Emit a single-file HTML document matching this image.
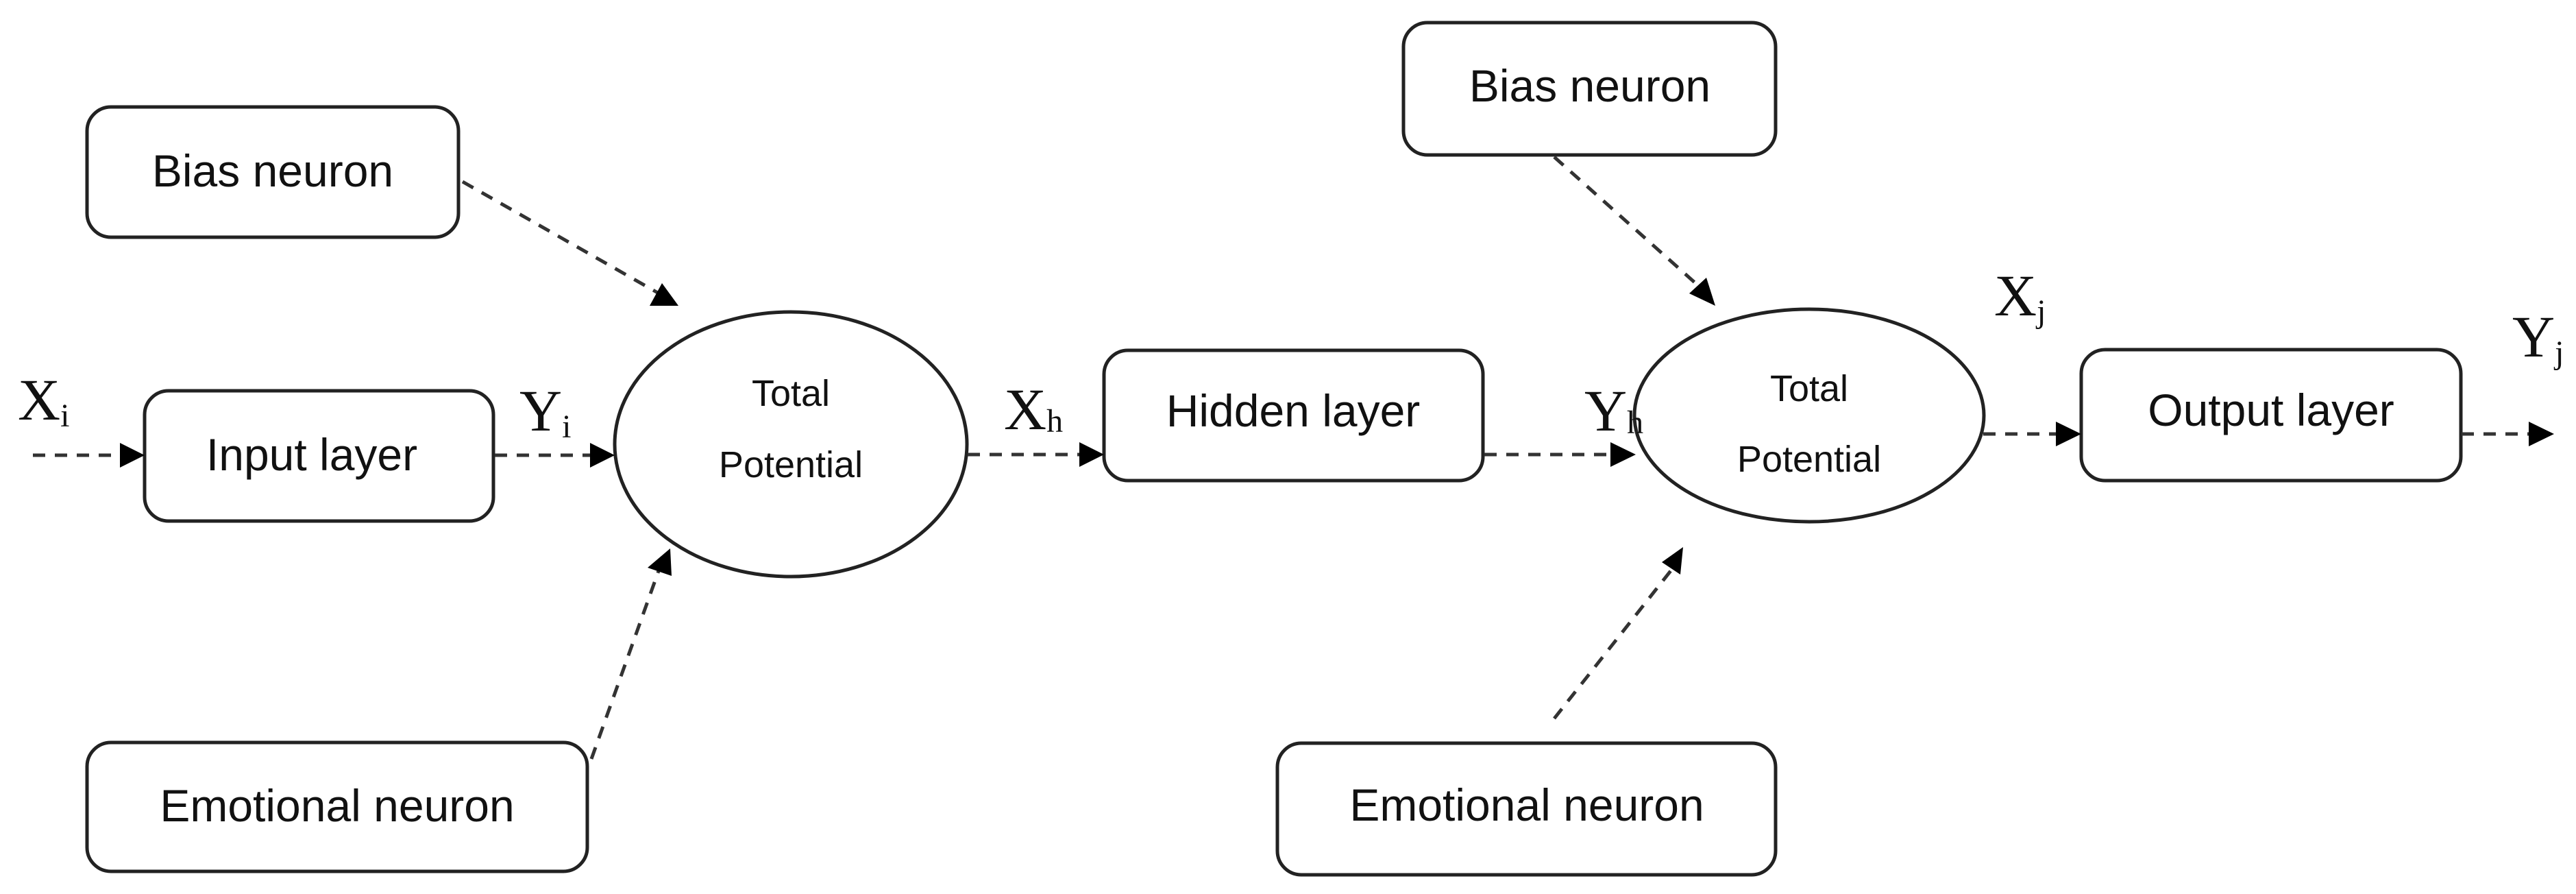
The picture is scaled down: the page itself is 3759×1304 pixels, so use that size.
<!DOCTYPE html>
<html><head><meta charset="utf-8"><style>
html,body{margin:0;padding:0;background:#fff;}
svg{display:block;}
.b{fill:#fff;stroke:#222;stroke-width:5;}
.t{font-family:"Liberation Sans Narrow","Liberation Sans",sans-serif;font-size:66px;fill:#111;}
.s{font-family:"Liberation Sans Narrow","Liberation Sans",sans-serif;font-size:54px;fill:#111;}
.m{font-family:"Liberation Serif",serif;font-size:86px;fill:#111;}
.sub{font-size:48px;}
.d{stroke:#333;stroke-width:5;stroke-dasharray:18 14;fill:none;}
</style></head><body>
<svg width="3759" height="1304" viewBox="0 0 3759 1304" xmlns="http://www.w3.org/2000/svg">
<defs><marker id="a" markerWidth="10" markerHeight="10" refX="8" refY="5" orient="auto" markerUnits="userSpaceOnUse" viewBox="0 0 10 10" style="overflow:visible"><path d="M0,0 L10,5 L0,10 z" fill="#000" transform="scale(4.5) translate(-2,-5) translate(0,5)"/></marker></defs>
<!-- boxes -->
<rect class="b" x="127" y="156" width="542" height="190" rx="35"/>
<text class="t" x="398" y="272" text-anchor="middle">Bias neuron</text>
<rect class="b" x="211" y="570" width="509" height="190" rx="35"/>
<text class="t" x="455" y="686" text-anchor="middle">Input layer</text>
<rect class="b" x="127" y="1083" width="730" height="188" rx="35"/>
<text class="t" x="492" y="1198" text-anchor="middle">Emotional neuron</text>
<rect class="b" x="1611" y="511" width="553" height="190" rx="35"/>
<text class="t" x="1887" y="622" text-anchor="middle">Hidden layer</text>
<rect class="b" x="2048" y="33" width="543" height="193" rx="35"/>
<text class="t" x="2320" y="148" text-anchor="middle">Bias neuron</text>
<rect class="b" x="1864" y="1084" width="727" height="192" rx="35"/>
<text class="t" x="2228" y="1197" text-anchor="middle">Emotional neuron</text>
<rect class="b" x="3037" y="510" width="554" height="191" rx="35"/>
<text class="t" x="3314" y="621" text-anchor="middle">Output layer</text>
<!-- ellipses -->
<ellipse class="b" cx="1154" cy="648" rx="257" ry="193" stroke-width="4"/>
<text class="s" x="1154" y="592" text-anchor="middle">Total</text>
<text class="s" x="1154" y="696" text-anchor="middle">Potential</text>
<ellipse class="b" cx="2640" cy="606" rx="255" ry="155" stroke-width="4"/>
<text class="s" x="2640" y="585" text-anchor="middle">Total</text>
<text class="s" x="2640" y="688" text-anchor="middle">Potential</text>
<!-- connectors -->
<g>
<line class="d" x1="48" y1="664" x2="180" y2="664"/><path d="M175,646 L211,664 L175,682z"/>
<line class="d" x1="722" y1="664" x2="865" y2="664"/><path d="M861,646 L897,664 L861,682z"/>
<line class="d" x1="1412" y1="663" x2="1580" y2="663"/><path d="M1575,645 L1611,663 L1575,681z"/>
<line class="d" x1="2166" y1="663" x2="2355" y2="663"/><path d="M2350,645 L2387,663 L2350,681z"/>
<line class="d" x1="2894" y1="633" x2="3005" y2="633"/><path d="M3000,615 L3037,633 L3000,651z"/>
<line class="d" x1="3592" y1="633" x2="3695" y2="633"/><path d="M3690,615 L3727,633 L3690,651z"/>
<line class="d" x1="675" y1="265" x2="965" y2="430"/><path d="M948,446 L990,446 L966,413z"/>
<line class="d" x1="863" y1="1107" x2="962" y2="830"/><path d="M945,828 L978,800 L980,840z"/>
<line class="d" x1="2268" y1="229" x2="2482" y2="420"/><path d="M2465,428 L2503,446 L2490,405z"/>
<line class="d" x1="2268" y1="1048" x2="2440" y2="830"/><path d="M2425,820 L2456,798 L2452,838z"/>
</g>
<!-- labels -->
<text class="m" x="26" y="612">X<tspan class="sub" dy="10">i</tspan></text>
<text class="m" x="758" y="628">Y<tspan class="sub" dy="10">i</tspan></text>
<text class="m" x="1465" y="626">X<tspan class="sub" dy="4">h</tspan></text>
<text class="m" x="2312" y="628">Y<tspan class="sub" dy="4">h</tspan></text>
<text class="m" x="2910" y="460">X<tspan class="sub" dy="10">j</tspan></text>
<text class="m" x="3666" y="520">Y<tspan class="sub" dy="10">j</tspan></text>
</svg>
</body></html>
